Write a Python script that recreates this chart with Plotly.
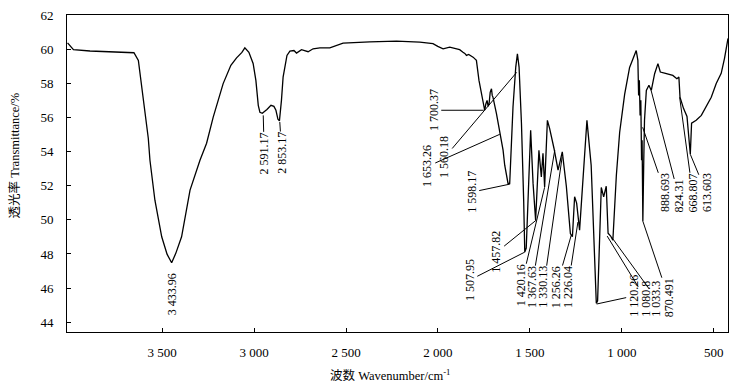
import plotly.graph_objects as go

# ---------------- data ----------------
wavenumber = [4014, 3982, 3892, 3783, 3653, 3629, 3602, 3575, 3566, 3539,
              3502, 3473, 3448, 3425, 3394, 3348, 3294, 3258, 3222, 3168,
              3126, 3095, 3066, 3050, 3028, 3005, 2990, 2977, 2968, 2955,
              2930, 2908, 2892, 2881, 2870, 2862, 2851, 2842, 2821, 2805,
              2783, 2769, 2742, 2726, 2706, 2679, 2642, 2588, 2516, 2371,
              2225, 2099, 2027, 2001, 1972, 1936, 1903, 1882, 1864, 1854,
              1845, 1833, 1809, 1791, 1777, 1765, 1755, 1746, 1740, 1733,
              1727, 1722, 1716, 1709, 1705, 1701, 1682, 1664, 1656, 1646,
              1637, 1619, 1610, 1592, 1577, 1568, 1559, 1546, 1534, 1528,
              1520, 1510, 1496, 1483, 1469, 1451, 1438, 1429, 1420, 1405,
              1393, 1369, 1347, 1324, 1302, 1280, 1269, 1257, 1246, 1230,
              1212, 1190, 1167, 1154, 1139, 1132, 1121, 1112, 1099, 1085,
              1075, 1061, 1049, 1030, 1012, 985, 958, 922, 913, 909,
              905, 901, 897, 893, 890, 886, 881, 877, 867, 853,
              840, 822, 804, 791, 768, 723, 701, 690, 684, 665,
              646, 636, 628, 621, 596, 568, 541, 514, 487, 460,
              442, 427, 423]

transmittance = [60.37, 59.97, 59.89, 59.84, 59.79, 59.34, 57.19, 54.78, 53.49, 51.15,
                 49.01, 47.99, 47.49, 48.05, 49.01, 51.74, 53.49, 54.49, 56.02, 57.98,
                 59.05, 59.49, 59.81, 60.08, 59.81, 59.16, 58.17, 56.71, 56.30, 56.24,
                 56.47, 56.71, 56.65, 56.42, 55.89, 55.80, 57.00, 58.36, 59.63, 59.88,
                 59.92, 59.77, 59.97, 59.92, 59.85, 60.02, 60.07, 60.08, 60.35, 60.42,
                 60.47, 60.41, 60.32, 60.16, 60.02, 60.12, 60.04, 59.97, 59.82, 59.75,
                 59.63, 59.69, 59.53, 59.34, 58.17, 57.47, 56.81, 56.42, 56.77, 57.00,
                 56.65, 56.81, 57.47, 57.68, 57.29, 57.19, 56.22, 55.05, 54.78, 54.08,
                 53.20, 52.13, 52.13, 56.61, 58.95, 59.73, 58.95, 55.64, 51.15, 48.11,
                 48.35, 51.15, 55.25, 52.15, 49.98, 54.08, 52.52, 53.90, 51.93, 55.83,
                 55.36, 54.18, 52.91, 53.98, 51.97, 49.20, 49.01, 51.35, 50.98, 49.40,
                 52.32, 55.83, 53.20, 48.81, 45.11, 45.25, 49.40, 51.90, 51.35, 51.97,
                 49.22, 49.05, 48.81, 52.61, 55.13, 57.35, 58.93, 59.92, 59.34, 57.29,
                 58.17, 56.12, 57.00, 53.49, 54.66, 49.92, 53.49, 55.83, 57.58, 57.88,
                 57.58, 58.56, 59.15, 58.66, 58.60, 58.46, 58.27, 58.36, 57.19, 56.53,
                 56.06, 54.85, 53.84, 55.66, 55.83, 56.12, 56.65, 57.18, 57.99, 58.58,
                 59.46, 60.51, 60.63]

x_tick_vals = [3500, 3000, 2500, 2000, 1500, 1000, 500]
x_tick_text = ["3 500", "3 000", "2 500", "2 000", "1 500", "1 000", "500"]
y_tick_vals = [44, 46, 48, 50, 52, 54, 56, 58, 60, 62]

peak_labels = ["3 433.96", "2 591.17", "2 853.17", "1 700.37", "1 653.26", "1 560.18",
               "1 598.17", "1 507.95", "1 457.82", "1 420.16", "1 367.63", "1 330.13",
               "1 256.26", "1 226.04", "1 120.26", "1 080.8", "1 033.3", "870.491",
               "888.693", "824.31", "668.807", "613.603"]
peak_wn = [3448, 2950, 2860, 1751, 1664, 1572, 1610, 1528, 1466, 1420, 1365, 1325,
           1275, 1239, 1137, 1080, 1048, 886, 887, 841, 686, 628]
peak_T = [47.49, 56.12, 55.73, 56.42, 55.01, 58.64, 52.09, 48.11, 49.98, 51.91, 54.08, 53.67,
          49.11, 49.87, 45.07, 49.05, 48.87, 49.92, 55.42, 57.58, 57.18, 53.84]

# ---------------- label placement (pixel offsets from the marked point) ----------------
label_offsets = [(0, 32, False), (1, 38, True), (2, 31, True), (-50, 0, True),
                 (-72, 32, True), (-72, 85, True), (-38, 8, True), (-55, 28, True),
                 (-39.5, 32, True), (-23.5, 98, True), (-23, 137, True), (-18.5, 130, True),
                 (-15, 52, True), (-10, 65, True), (37, -8, True), (38.5, 63, True),
                 (43.5, 60, True), (25.7, 76.5, True), (22.5, 65.5, True), (27.5, 105.5, True),
                 (13, 95.5, True), (16, 38.5, True)]

SERIF = "Liberation Serif, Times New Roman, serif"
TITLE_FONT = "Liberation Serif, Noto Sans CJK SC, serif"

fig = go.Figure()
fig.add_trace(go.Scatter(x=wavenumber, y=transmittance, mode="lines",
                         line=dict(color="black", width=1.3), hoverinfo="skip",
                         showlegend=False))

annotations = []
for txt, wn, t, (dx, dy, leader) in zip(peak_labels, peak_wn, peak_T, label_offsets):
    if leader:
        annotations.append(dict(x=wn, y=t, xref="x", yref="y", text=txt, textangle=-90,
                                showarrow=True, arrowhead=0, arrowwidth=1, arrowcolor="black",
                                ax=dx, ay=dy, standoff=0, borderpad=0,
                                font=dict(family=SERIF, size=12, color="black")))
    else:
        annotations.append(dict(x=wn, y=t, xref="x", yref="y", text=txt, textangle=-90,
                                showarrow=False, xanchor="center", yanchor="middle",
                                xshift=dx, yshift=-dy,
                                font=dict(family=SERIF, size=12, color="black")))

annotations.append(dict(x=-0.080, y=0.5575, xref="paper", yref="paper",
                        text="透光率 Transmittance/%", textangle=-90, showarrow=False,
                        xanchor="center", yanchor="middle",
                        font=dict(family=TITLE_FONT, size=12.5, color="black")))
annotations.append(dict(x=0.49, y=-0.135, xref="paper", yref="paper",
                        text="波数 Wavenumber/cm<sup>-1</sup>", showarrow=False,
                        xanchor="center", yanchor="middle",
                        font=dict(family=TITLE_FONT, size=12.5, color="black")))

fig.update_layout(
    width=740, height=388,
    margin=dict(l=67, r=11.5, t=14.5, b=56),
    paper_bgcolor="white", plot_bgcolor="white",
    annotations=annotations,
    showlegend=False,
)
fig.update_xaxes(range=[4017, 423], tickvals=x_tick_vals, ticktext=x_tick_text,
                 ticks="inside", ticklen=4, tickcolor="black", tickwidth=1,
                 showline=True, linecolor="black", linewidth=1, mirror=True,
                 showgrid=False, zeroline=False, ticklabelstandoff=8, automargin=False,
                 tickfont=dict(family=SERIF, size=13, color="black"))
fig.update_yaxes(range=[43.43, 62], tickvals=y_tick_vals,
                 ticks="inside", ticklen=4, tickcolor="black", tickwidth=1,
                 showline=True, linecolor="black", linewidth=1, mirror=True,
                 showgrid=False, zeroline=False, ticklabelstandoff=10, automargin=False,
                 tickfont=dict(family=SERIF, size=13, color="black"))

fig.write_html("out.html", config={"displayModeBar": False},
               post_script="document.body.style.margin='0';document.body.style.padding='0';")
